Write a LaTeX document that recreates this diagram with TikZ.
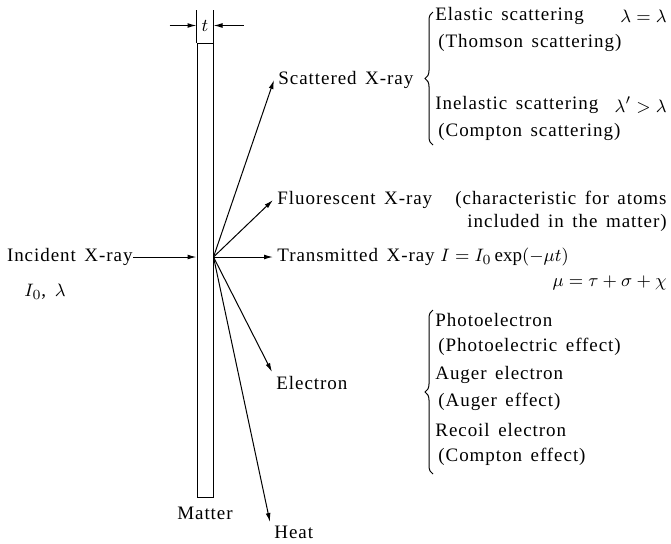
\documentclass[tikz,border=0pt]{standalone}
\usepackage{fontspec}
\setmainfont{Liberation Serif}[LetterSpace=5,WordSpace=1.5]
\usetikzlibrary{positioning,arrows.meta,fit,calc,decorations.pathreplacing}

\begin{document}
\begin{tikzpicture}[
    x=0.5pt, y=-0.5pt,
    font=\fontsize{9.5}{11.5}\selectfont,
    lbl/.style={inner sep=2pt, anchor=west},
    sub/.style={lbl, xshift=1.5pt},
    ray/.style={-{Latex[length=4.5pt,width=2.4pt]}, line width=0.5pt},
    brc/.style={decorate, decoration={brace, amplitude=4pt}, line width=0.5pt}]
  \useasboundingbox (0,0) rectangle (671,543);
  % the matter slab and its thickness
  \node[draw, line width=0.5pt, inner sep=0pt, fit={(197,43) (213,497)}] (slab) {};
  \node[below=1pt of slab] (matter) {Matter};
  \draw[line width=0.5pt] (slab.north west) -- ++(0,-33);
  \draw[line width=0.5pt] (slab.north east) -- ++(0,-33);
  \coordinate (tl) at ($(slab.north west)+(0,-17)$);
  \coordinate (tr) at ($(slab.north east)+(0,-17)$);
  \coordinate (tla) at ($(tl)+(-27,0)$);
  \coordinate (tra) at ($(tr)+(30,0)$);
  \draw[ray] (tla) -- (tl);
  \draw[ray] (tra) -- (tr);
  \node[inner sep=0pt] (thk) at ($(tl)!0.5!(tr)$) {$t$};
  % incident beam
  \node[anchor=east, inner sep=0pt] (inc) at (133,257) {Incident X-ray};
  \node (src) at (45,292) {$I_0$, $\lambda$};
  \draw[ray] (inc.east) -- (inc.east -| slab.west);
  \coordinate (O) at (inc.east -| slab.east);
  % outgoing radiation
  \node[lbl] (scat) at (274,80) {Scattered X-ray};
  \node[lbl] (fluo) at (273,200) {Fluorescent X-ray};
  \node[lbl] (trans) at (273,257) {Transmitted X-ray};
  \node[lbl, anchor=north west] (elec) at (272,372) {Electron};
  \node[lbl, anchor=north west] (heat) at (270,522) {Heat};
  \draw[ray] (O) -- (scat.west);
  \draw[ray] (O) -- (fluo.west);
  \draw[ray] (O) -- (trans.west);
  \draw[ray] (O) -- (elec.north west);
  \draw[ray] (O) -- (heat.north west);
  % scattering
  \draw[brc] (433,145) -- (433,12);
  \node[lbl] (ela) at (431,16) {Elastic scattering};
  \node[lbl, anchor=east] (elaeq) at (671,16) {$\lambda=\lambda$};
  \node[sub] (thom) at (431,43) {(Thomson scattering)};
  \node[lbl] (inel) at (431,105) {Inelastic scattering};
  \node[lbl, anchor=east] (ineleq) at (671,105) {$\lambda'>\lambda$};
  \node[sub] (comp) at (431,132) {(Compton scattering)};
  % fluorescence and transmission
  \node[lbl, anchor=east, align=right] (char) at (671,211) {(characteristic for atoms\\included in the matter)};
  \node[lbl] (law) at (436,257) {$I=I_0\exp(-\mu t)$};
  \node[lbl, anchor=east] (mu) at (671,283) {$\mu=\tau+\sigma+\chi$};
  % electrons
  \draw[brc] (433,474) -- (433,310);
  \node[lbl] (photo) at (431,320) {Photoelectron};
  \node[sub] (photoef) at (431,347) {(Photoelectric effect)};
  \node[lbl] (auger) at (431,375) {Auger electron};
  \node[sub] (augeref) at (431,402) {(Auger effect)};
  \node[lbl] (recoil) at (431,430) {Recoil electron};
  \node[sub] (recoilef) at (431,457) {(Compton effect)};
\end{tikzpicture}
\end{document}
